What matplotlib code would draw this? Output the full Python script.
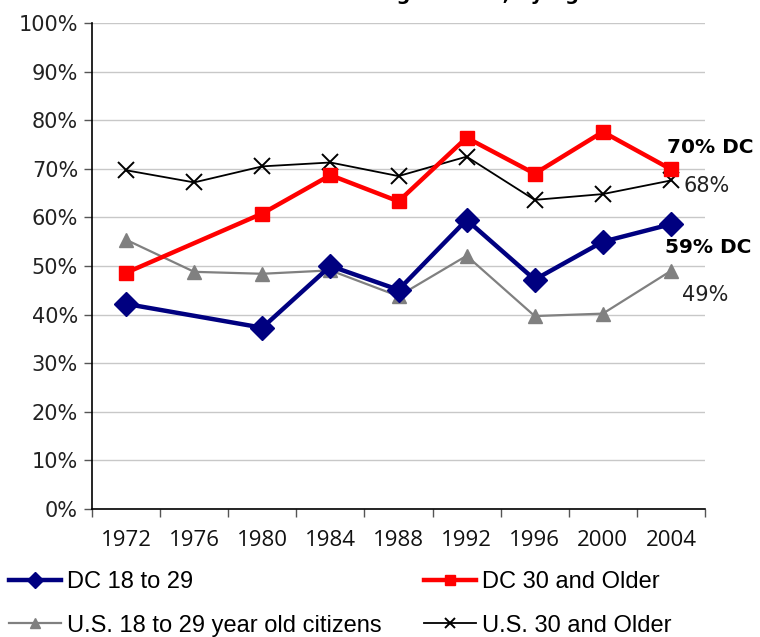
import numpy as np
import matplotlib.pyplot as plt

# voting rates by age group
years = ['1972', '1976', '1980', '1984', '1988', '1992', '1996', '2000', '2004']
dc_young = [42.2, np.nan, 37.3, 50.0, 45.1, 59.5, 47.2, 55.0, 58.6]
dc_old = [48.6, np.nan, 60.8, 68.7, 63.3, 76.4, 69.0, 77.6, 69.9]
us_young = [55.4, 48.8, 48.4, 49.1, 43.8, 52.1, 39.7, 40.2, 49.0]
us_old = [69.7, 67.2, 70.5, 71.3, 68.5, 72.5, 63.6, 64.8, 67.6]

yticks = list(range(0, 101, 10))

fig = plt.figure(figsize=(7.6, 6.37), dpi=100)
ax = fig.add_axes([92 / 760, 1 - 509 / 637, (705 - 92) / 760, (509 - 23) / 637])

x = np.arange(len(years))


def plot_series(vals, **kw):
    vals = np.array(vals)
    m = ~np.isnan(vals)
    return ax.plot(x[m], vals[m], clip_on=False, **kw)[0]


h1 = plot_series(dc_young, color='#000080', lw=3.2, marker='D', ms=12, zorder=5)
h2 = plot_series(dc_old, color='#ff0000', lw=3.2, marker='s', ms=10, zorder=4)
h3 = plot_series(us_young, color='#808080', lw=1.6, marker='^', ms=10, zorder=3)
h4 = plot_series(us_old, color='black', lw=1.3, marker='x', ms=11, mew=1.4, zorder=3)

ax.set_xlim(-0.5, len(years) - 0.5)
ax.set_ylim(0, 100)
ax.set_yticks(yticks)
ax.set_yticklabels([f'{v}%' for v in yticks], fontsize=15, family='DejaVu Sans', color='#222222')
ax.yaxis.grid(True, color='#c8c8c8', lw=1)
ax.set_axisbelow(True)

ax.set_xticks(x)
ax.set_xticklabels(years, fontsize=16, family='Open Sans', color='#111111')
ax.set_xticks(np.arange(-0.5, len(years)), minor=True)
ax.tick_params(axis='x', which='major', length=0, pad=15)
ax.tick_params(axis='x', which='minor', length=6, width=1, direction='out', color='#555555')
ax.tick_params(axis='y', length=6, width=1, direction='out', color='#555555', pad=4)

for s in ['top', 'right']:
    ax.spines[s].set_visible(False)
ax.spines['left'].set_linewidth(1.2)
ax.spines['bottom'].set_linewidth(1.2)

# end-of-line labels
ax.text(7.94, 74.3, '70% DC', fontsize=14.5, fontweight='bold', va='center', ha='left', clip_on=False)
ax.text(8.19, 66.5, '68%', fontsize=15, va='center', ha='left', color='#222222', clip_on=False)
ax.text(7.91, 53.9, '59% DC', fontsize=14.5, fontweight='bold', va='center', ha='left', clip_on=False)
ax.text(8.16, 44.0, '49%', fontsize=15, va='center', ha='left', color='#222222', clip_on=False)

# title, cut off by the top edge in the reference
fig.text(398 / 760, 1.0, 'DC and U.S. Voting Turnout, by Age', fontsize=14,
         fontweight='bold', ha='center', va='baseline')

fig.legend([h1, h3, h2, h4],
           ['DC 18 to 29', 'U.S. 18 to 29 year old citizens', 'DC 30 and Older', 'U.S. 30 and Older'],
           ncol=2, loc='upper left', bbox_to_anchor=(0.0, 1 - 562 / 637), frameon=False,
           prop={'family': 'Liberation Sans', 'size': 17}, handlelength=2.2, handletextpad=0.25,
           columnspacing=1.8, labelspacing=0.9, markerscale=0.65, borderaxespad=0)

fig.savefig('out.png', dpi=100)
